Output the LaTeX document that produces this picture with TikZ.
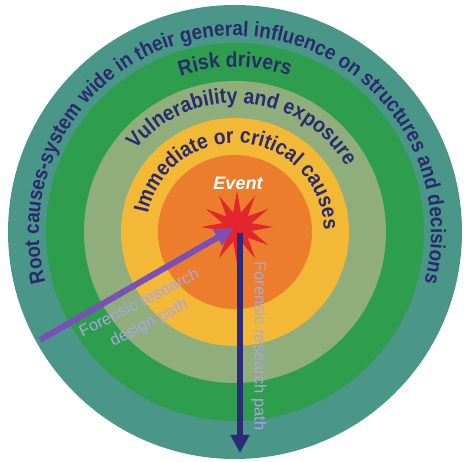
\documentclass[tikz,border=0pt]{standalone}
\usepackage{fontspec}
\setmainfont{Liberation Sans}
\newfontfamily\ringfont[FakeStretch=0.9]{Liberation Sans}
\usetikzlibrary{decorations.text,arrows.meta}
\definecolor{ringteal}{HTML}{4A9688}
\definecolor{ringgreen}{HTML}{2E9E4E}
\definecolor{ringsage}{HTML}{8FAE7B}
\definecolor{ringyellow}{HTML}{F2B836}
\definecolor{ringorange}{HTML}{EB7D2D}
\definecolor{starred}{HTML}{E3262E}
\definecolor{navytext}{HTML}{2B2A6E}
\definecolor{navyarrow}{HTML}{2E2A7A}
\definecolor{purplearrow}{HTML}{7B4FB8}
\definecolor{lavender}{HTML}{A9A6E2}
\tikzset{
  ringtext/.style={decorate, decoration={text along path, text align=center, text color=navytext, text={#1}}},
  pathlabel/.style={text=lavender, font=\fontsize{16.5}{22}\selectfont, inner sep=0pt},
  purplepath/.style={draw=purplearrow, line width=6pt, -{Triangle[width=17pt,length=19pt]}},
  navypath/.style={draw=navyarrow, line width=6pt, -{Triangle[width=18pt,length=18pt]}},
}
\begin{document}
\begin{tikzpicture}[x=1pt,y=1pt]
\useasboundingbox (0,0) rectangle (464,462);
\coordinate (C) at (235,230);
\fill[ringteal] (C) circle[radius=227pt];
\fill[ringgreen] (C) circle[radius=189pt];
\fill[ringsage] (C) circle[radius=151pt];
\fill[ringyellow] (C) circle[radius=114pt];
\fill[ringorange] (C) circle[radius=77pt];
% ring texts
\path[ringtext={|\ringfont\bfseries\fontsize{21}{21}\selectfont|Root causes-system wide in their general influence on structures and decisions}, shift={(235,230)}]
  (215:196pt) arc[start angle=215, end angle=-35, radius=196pt];
\path[ringtext={|\ringfont\bfseries\fontsize{21.5}{21.5}\selectfont|Risk drivers}, shift={(235,230)}]
  (160:165pt) arc[start angle=160, end angle=20, radius=165pt];
\path[ringtext={|\ringfont\bfseries\fontsize{21.5}{21.5}\selectfont|Vulnerability and exposure}, shift={(235,230)}]
  (165.5:129pt) arc[start angle=165.5, end angle=5.5, radius=129pt];
\path[ringtext={|\ringfont\bfseries\fontsize{21.5}{21.5}\selectfont|Immediate or critical causes}, shift={(235,230)}]
  (184.75:89pt) arc[start angle=184.75, end angle=-15.25, radius=89pt];
% star
\fill[starred,shift={(237,235)}] (90:36pt)
  \foreach \k in {1,...,23}{ -- ({90+15*\k}:{mod(\k,2)==1 ? 15 : 36}) } -- cycle;
\node[text=white, font=\bfseries\itshape\fontsize{18}{18}\selectfont] (event) at (238,279) {Event};
% arrows
\coordinate (ptail) at (40,122);
\coordinate (phead) at (234,234);
\coordinate (ntop) at (240,229);
\coordinate (ntip) at (240,9);
\draw[purplepath] (ptail) -- (phead);
\draw[navypath] (ntop) -- (ntip);
% labels
\node[pathlabel, rotate=-90] (rlabel) at (259,116) {Forensic research path};
\node[pathlabel, rotate=27, align=center] (dlabel) at (144.5,148.5) {Forensic research\\design path};
\end{tikzpicture}
\end{document}
